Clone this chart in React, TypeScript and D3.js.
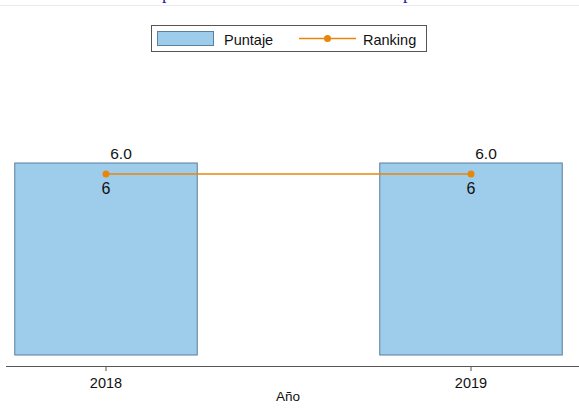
import React from "react";
import * as d3 from "d3";

const years = [2018, 2019];
const puntaje = [6.0, 6.0];
const ranking = [6, 6];
const titleFragments = ["p", "p"];

const W = 579;
const H = 419;

export default function App() {
  const x = d3.scaleLinear().domain([2018, 2019]).range([106, 471]);
  const bw = 0.5 * (x(2019) - x(2018));
  const y = d3.scaleLinear().domain([0, 6]).range([355, 163]);
  const y2 = d3.scaleLinear().domain([0, 6]).range([355, 174]);
  const line = d3
    .line<number>()
    .x((_, i) => x(years[i]))
    .y((d) => y2(d));
  const font = "'Liberation Sans', Arial, sans-serif";
  const barFill = "#9dcdeb";
  const barStroke = "#5b7f9c";
  const orange = "#e8860c";
  const titleX = [162, 403];

  return (
    <svg
      width={W}
      height={H}
      style={{ position: "absolute", left: 0, top: 0, background: "#fff" }}
      fontFamily={font}
    >
      <rect x={0} y={0} width={W} height={H} fill="#fff" />
      {titleFragments.map((t, i) => (
        <text
          key={"t" + i}
          x={titleX[i]}
          y={-1}
          fontFamily="'Liberation Serif', 'DejaVu Serif', serif"
          fontSize={18}
          fill="#1a1aa6"
        >
          {t}
        </text>
      ))}
      <line x1={0} x2={W} y1={5.5} y2={5.5} stroke="#ececec" strokeWidth={1} />

      {/* legend */}
      <rect x={151.5} y={25.5} width={275} height={26} fill="#fff" stroke="#555" strokeWidth={1} />
      <rect x={157.5} y={31.5} width={56} height={14} fill={barFill} stroke={barStroke} strokeWidth={1} />
      <text x={224} y={44.5} fontSize={14.5} fill="#111">Puntaje</text>
      <line x1={299} x2={356} y1={38.5} y2={38.5} stroke={orange} strokeWidth={1.5} />
      <circle cx={327.5} cy={38.5} r={3.5} fill={orange} />
      <text x={363} y={44.5} fontSize={14.5} fill="#111">Ranking</text>

      {/* bars */}
      {years.map((yr, i) => (
        <g key={"b" + yr}>
          <rect
            x={x(yr) - bw / 2}
            y={y(puntaje[i])}
            width={bw}
            height={y(0) - y(puntaje[i])}
            fill={barFill}
            stroke={barStroke}
            strokeWidth={1}
          />
          <text
            x={x(yr) + 15}
            y={y(puntaje[i]) - 4.5}
            fontSize={15.5}
            textAnchor="middle"
            fill="#111"
          >
            {d3.format(".1f")(puntaje[i])}
          </text>
        </g>
      ))}

      {/* ranking line */}
      <path d={line(ranking) || ""} fill="none" stroke={orange} strokeWidth={1.5} />
      {years.map((yr, i) => (
        <g key={"r" + yr}>
          <circle cx={x(yr)} cy={y2(ranking[i])} r={3.5} fill={orange} />
          <text x={x(yr)} y={y2(ranking[i]) + 20} fontSize={16} textAnchor="middle" fill="#111">
            {ranking[i]}
          </text>
        </g>
      ))}

      {/* x axis */}
      <line x1={6} x2={W} y1={366.5} y2={366.5} stroke="#555" strokeWidth={1} />
      {years.map((yr) => (
        <g key={"x" + yr}>
          <line x1={x(yr)} x2={x(yr)} y1={366.5} y2={371} stroke="#555" strokeWidth={1} />
          <text x={x(yr)} y={387.5} fontSize={14.5} textAnchor="middle" fill="#111">
            {yr}
          </text>
        </g>
      ))}
      <text x={288} y={401} fontSize={13.5} textAnchor="middle" fill="#111">
        Año
      </text>
    </svg>
  );
}
